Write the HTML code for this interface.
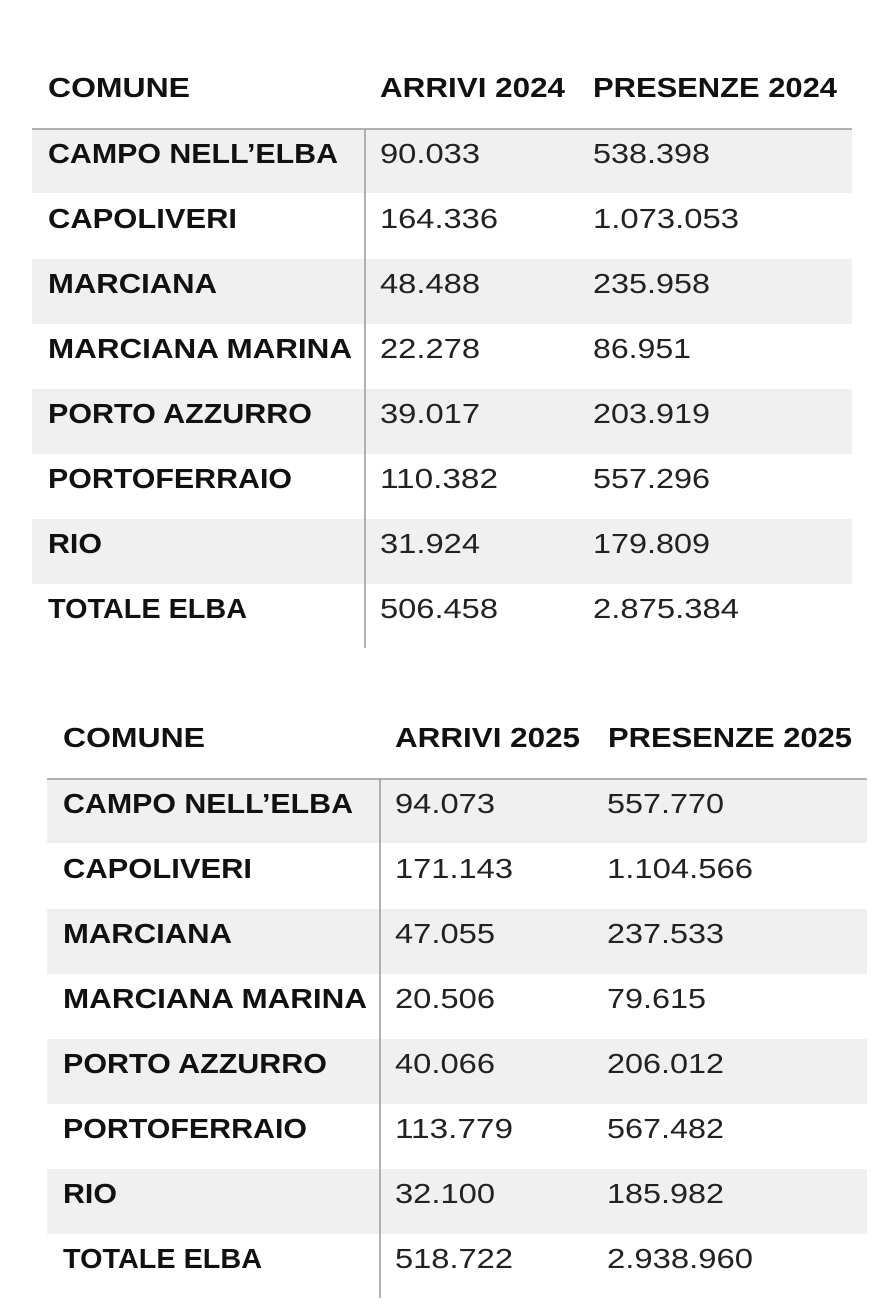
<!DOCTYPE html>
<html><head><meta charset="utf-8"><style>
html,body{margin:0;padding:0;background:#fff;}
svg{display:block;}
text{font-family:"Liberation Sans",sans-serif;fill:#111;}
.b{font-weight:bold;font-size:28px;}
.n{font-size:28px;fill:#222;}
</style></head><body>
<svg width="895" height="1314" viewBox="0 0 895 1314" xmlns="http://www.w3.org/2000/svg">
<defs>
<g id="bg">
<rect x="32" y="129" width="820" height="64" fill="#f0f0f0"/>
<rect x="32" y="259" width="820" height="65" fill="#f0f0f0"/>
<rect x="32" y="389" width="820" height="65" fill="#f0f0f0"/>
<rect x="32" y="519" width="820" height="65" fill="#f0f0f0"/>
<line x1="32" y1="129" x2="852" y2="129" stroke="#999" stroke-width="1.5"/>
<line x1="365" y1="129" x2="365" y2="648" stroke="#999" stroke-width="1.5"/>
<text class="b" x="48" y="163" textLength="290" lengthAdjust="spacingAndGlyphs">CAMPO NELL’ELBA</text>
<text class="b" x="48" y="228" textLength="189" lengthAdjust="spacingAndGlyphs">CAPOLIVERI</text>
<text class="b" x="48" y="293" textLength="169" lengthAdjust="spacingAndGlyphs">MARCIANA</text>
<text class="b" x="48" y="358" textLength="304" lengthAdjust="spacingAndGlyphs">MARCIANA MARINA</text>
<text class="b" x="48" y="423" textLength="264" lengthAdjust="spacingAndGlyphs">PORTO AZZURRO</text>
<text class="b" x="48" y="488" textLength="244" lengthAdjust="spacingAndGlyphs">PORTOFERRAIO</text>
<text class="b" x="48" y="553" textLength="54" lengthAdjust="spacingAndGlyphs">RIO</text>
<text class="b" x="48" y="618" textLength="199" lengthAdjust="spacingAndGlyphs">TOTALE ELBA</text>
<text class="b" x="48" y="97" textLength="142" lengthAdjust="spacingAndGlyphs">COMUNE</text>
</g>
</defs>
<use href="#bg"/>
<text class="b" x="380" y="97" textLength="185" lengthAdjust="spacingAndGlyphs">ARRIVI 2024</text>
<text class="b" x="593" y="97" textLength="244" lengthAdjust="spacingAndGlyphs">PRESENZE 2024</text>
<text class="n" x="380" y="163" textLength="100" lengthAdjust="spacingAndGlyphs">90.033</text>
<text class="n" x="380" y="228" textLength="118" lengthAdjust="spacingAndGlyphs">164.336</text>
<text class="n" x="380" y="293" textLength="100" lengthAdjust="spacingAndGlyphs">48.488</text>
<text class="n" x="380" y="358" textLength="100" lengthAdjust="spacingAndGlyphs">22.278</text>
<text class="n" x="380" y="423" textLength="100" lengthAdjust="spacingAndGlyphs">39.017</text>
<text class="n" x="380" y="488" textLength="118" lengthAdjust="spacingAndGlyphs">110.382</text>
<text class="n" x="380" y="553" textLength="100" lengthAdjust="spacingAndGlyphs">31.924</text>
<text class="n" x="380" y="618" textLength="118" lengthAdjust="spacingAndGlyphs">506.458</text>
<text class="n" x="593" y="163" textLength="117" lengthAdjust="spacingAndGlyphs">538.398</text>
<text class="n" x="593" y="228" textLength="146" lengthAdjust="spacingAndGlyphs">1.073.053</text>
<text class="n" x="593" y="293" textLength="117" lengthAdjust="spacingAndGlyphs">235.958</text>
<text class="n" x="593" y="358" textLength="98" lengthAdjust="spacingAndGlyphs">86.951</text>
<text class="n" x="593" y="423" textLength="117" lengthAdjust="spacingAndGlyphs">203.919</text>
<text class="n" x="593" y="488" textLength="117" lengthAdjust="spacingAndGlyphs">557.296</text>
<text class="n" x="593" y="553" textLength="117" lengthAdjust="spacingAndGlyphs">179.809</text>
<text class="n" x="593" y="618" textLength="146" lengthAdjust="spacingAndGlyphs">2.875.384</text>
<g transform="translate(15,650)">
<use href="#bg"/>
<text class="b" x="380" y="97" textLength="185" lengthAdjust="spacingAndGlyphs">ARRIVI 2025</text>
<text class="b" x="593" y="97" textLength="244" lengthAdjust="spacingAndGlyphs">PRESENZE 2025</text>
<text class="n" x="380" y="163" textLength="100" lengthAdjust="spacingAndGlyphs">94.073</text>
<text class="n" x="380" y="228" textLength="118" lengthAdjust="spacingAndGlyphs">171.143</text>
<text class="n" x="380" y="293" textLength="100" lengthAdjust="spacingAndGlyphs">47.055</text>
<text class="n" x="380" y="358" textLength="100" lengthAdjust="spacingAndGlyphs">20.506</text>
<text class="n" x="380" y="423" textLength="100" lengthAdjust="spacingAndGlyphs">40.066</text>
<text class="n" x="380" y="488" textLength="118" lengthAdjust="spacingAndGlyphs">113.779</text>
<text class="n" x="380" y="553" textLength="100" lengthAdjust="spacingAndGlyphs">32.100</text>
<text class="n" x="380" y="618" textLength="118" lengthAdjust="spacingAndGlyphs">518.722</text>
<text class="n" x="592" y="163" textLength="117" lengthAdjust="spacingAndGlyphs">557.770</text>
<text class="n" x="592" y="228" textLength="146" lengthAdjust="spacingAndGlyphs">1.104.566</text>
<text class="n" x="592" y="293" textLength="117" lengthAdjust="spacingAndGlyphs">237.533</text>
<text class="n" x="592" y="358" textLength="99" lengthAdjust="spacingAndGlyphs">79.615</text>
<text class="n" x="592" y="423" textLength="117" lengthAdjust="spacingAndGlyphs">206.012</text>
<text class="n" x="592" y="488" textLength="117" lengthAdjust="spacingAndGlyphs">567.482</text>
<text class="n" x="592" y="553" textLength="117" lengthAdjust="spacingAndGlyphs">185.982</text>
<text class="n" x="592" y="618" textLength="146" lengthAdjust="spacingAndGlyphs">2.938.960</text>
</g>
</svg>
</body></html>
